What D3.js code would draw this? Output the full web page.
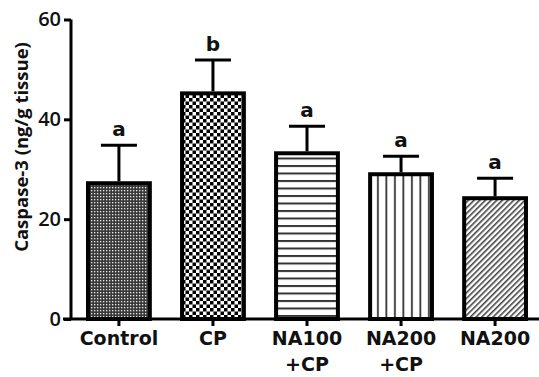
<!DOCTYPE html>
<meta charset="utf-8">
<style>
body { margin: 0; background: #fff; }
text { font-family: "Open Sans", sans-serif; font-weight: 700; fill: #111; }
</style>
<body>
<script src="https://cdn.jsdelivr.net/npm/d3@7"></script>
<script>

var groups = ["Control", "CP", "NA100\n+CP", "NA200\n+CP", "NA200"];
var means = [27.6, 45.6, 33.6, 29.4, 24.6];
var sem = [7.2, 6.3, 5.0, 3.2, 3.6];
var letters = ["a", "b", "a", "a", "a"];
var fills = ["dots", "checker", "hlines", "vlines", "diag"];
var yTicks = [0, 20, 40, 60];

var width = 539, height = 377;
var margin = {top: 19.5, left: 71, bottom: 58, right: 6};

var svg = d3.select("body").append("svg")
    .attr("width", width)
    .attr("height", height);

var defs = svg.append("defs");

// fine grey dot fill
var p = defs.append("pattern").attr("id", "dots")
    .attr("patternUnits", "userSpaceOnUse").attr("width", 3).attr("height", 3);
p.append("rect").attr("width", 3).attr("height", 3).attr("fill", "#3a3a3a");
p.append("rect").attr("x", 1).attr("y", 1).attr("width", 1.3).attr("height", 1.3).attr("fill", "#e8e8e8");

// checkerboard
p = defs.append("pattern").attr("id", "checker")
    .attr("patternUnits", "userSpaceOnUse").attr("width", 7).attr("height", 7);
p.append("rect").attr("width", 7).attr("height", 7).attr("fill", "#fff");
p.append("rect").attr("width", 3.5).attr("height", 3.5).attr("fill", "#000");
p.append("rect").attr("x", 3.5).attr("y", 3.5).attr("width", 3.5).attr("height", 3.5).attr("fill", "#000");

// horizontal lines
p = defs.append("pattern").attr("id", "hlines")
    .attr("patternUnits", "userSpaceOnUse").attr("width", 8).attr("height", 7.5);
p.append("rect").attr("width", 8).attr("height", 7.5).attr("fill", "#fff");
p.append("rect").attr("y", 0).attr("width", 8).attr("height", 2).attr("fill", "#333");

// vertical lines
p = defs.append("pattern").attr("id", "vlines")
    .attr("patternUnits", "userSpaceOnUse").attr("width", 8.5).attr("height", 8);
p.append("rect").attr("width", 8.5).attr("height", 8).attr("fill", "#fff");
p.append("rect").attr("x", 3).attr("width", 1.8).attr("height", 8).attr("fill", "#333");

// diagonal hatch
p = defs.append("pattern").attr("id", "diag")
    .attr("patternUnits", "userSpaceOnUse").attr("width", 4).attr("height", 4)
    .attr("patternTransform", "rotate(45)");
p.append("rect").attr("width", 4).attr("height", 4).attr("fill", "#fff");
p.append("rect").attr("width", 1.6).attr("height", 4).attr("fill", "#444");

var x = d3.scaleBand()
    .domain(groups)
    .range([72, 542])
    .paddingInner(0.3)
    .paddingOuter(0.149);

var y = d3.scaleLinear()
    .domain([0, 60])
    .range([height - margin.bottom, margin.top]);

// bars
svg.selectAll(".bar")
  .data(groups)
  .enter()
  .append("rect")
  .attr("x", function(d){ return x(d) + 2; })
  .attr("y", function(d, i){ return y(means[i]) + 2; })
  .attr("width", x.bandwidth() - 4)
  .attr("height", function(d, i){ return y(0) - y(means[i]) - 2; })
  .attr("fill", function(d, i){ return "url(#" + fills[i] + ")"; })
  .attr("stroke", "#000")
  .attr("stroke-width", 4);

// error bars
var eb = svg.selectAll(".err")
  .data(groups)
  .enter()
  .append("g");
eb.append("line")
  .attr("x1", function(d){ return x(d) + x.bandwidth()/2; })
  .attr("x2", function(d){ return x(d) + x.bandwidth()/2; })
  .attr("y1", function(d, i){ return y(means[i]); })
  .attr("y2", function(d, i){ return y(means[i] + sem[i]); })
  .attr("stroke", "#000").attr("stroke-width", 3);
eb.append("line")
  .attr("x1", function(d){ return x(d) + x.bandwidth()/2 - 18; })
  .attr("x2", function(d){ return x(d) + x.bandwidth()/2 + 18; })
  .attr("y1", function(d, i){ return y(means[i] + sem[i]); })
  .attr("y2", function(d, i){ return y(means[i] + sem[i]); })
  .attr("stroke", "#000").attr("stroke-width", 3);

// significance letters
svg.selectAll(".sig")
  .data(groups)
  .enter()
  .append("text")
  .attr("x", function(d){ return x(d) + x.bandwidth()/2; })
  .attr("y", function(d, i){ return y(means[i] + sem[i]) - 9; })
  .attr("text-anchor", "middle")
  .style("font-family", "'DejaVu Sans', sans-serif")
  .style("font-size", "20px")
  .text(function(d, i){ return letters[i]; });

// y axis
var yAxis = svg.append("g")
  .attr("transform", "translate(" + margin.left + ",0)")
  .call(d3.axisLeft(y).tickValues(yTicks).tickSize(7).tickPadding(3));
yAxis.select(".domain").attr("stroke-width", 3).attr("d", "M0," + y(60) + "V" + y(0));
yAxis.selectAll(".tick line").attr("stroke-width", 3);
yAxis.selectAll(".tick text").style("font-size", "20px").style("font-weight", 600)
  .attr("font-family", null);

// x axis
var xAxis = svg.append("g")
  .attr("transform", "translate(0," + y(0) + ")")
  .call(d3.axisBottom(x).tickSize(7).tickSizeOuter(0));
xAxis.select(".domain").attr("stroke-width", 3).attr("d", "M" + (margin.left - 8) + ",0H" + width);
xAxis.selectAll(".tick line").attr("stroke-width", 3);
xAxis.selectAll(".tick text").remove();
xAxis.selectAll(".tick").each(function(d){
  var t = d3.select(this).append("text")
    .attr("text-anchor", "middle")
    .style("font-family", "'DejaVu Sans', sans-serif")
    .style("font-size", "19px")
    .attr("fill", "#111");
  d.split("\n").forEach(function(s, k){
    t.append("tspan").attr("x", 0).attr("y", 26 + k * 26).text(s);
  });
});

// y axis title
svg.append("text")
  .attr("transform", "translate(28," + 147 + ") rotate(-90)")
  .attr("text-anchor", "middle")
  .style("font-size", "18.5px")
  .style("font-weight", 700)
  .text("Caspase-3 (ng/g tissue)");

</script>
</body>
